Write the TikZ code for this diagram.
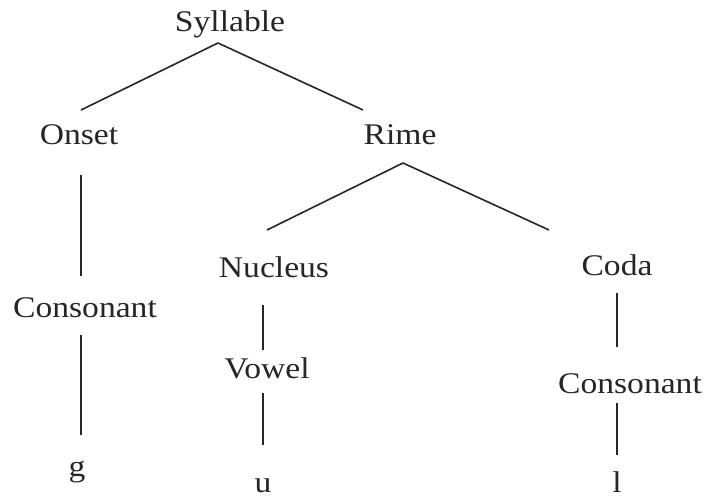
\documentclass[tikz,border=0pt]{standalone}
\usepackage{fontspec}
\setmainfont{Liberation Serif}[FakeStretch=1.12]
\usetikzlibrary{calc}
\begin{document}
\begin{tikzpicture}[x=1pt,y=-1pt,
  lbl/.style={anchor=base,inner sep=0pt,font=\fontsize{30}{34}\selectfont,text=black!85},
  edge/.style={line width=1.6pt,draw=black!85}]
\useasboundingbox[fill=white] (0,0) rectangle (704,497);
\node[lbl] (syl) at (230,32) {Syllable};
\node[lbl] (onset) at (79,145) {Onset};
\node[lbl] (rime) at (400,145) {Rime};
\node[lbl] (consl) at (85,317) {Consonant};
\node[lbl] (g) at (77,476) {g};
\node[lbl] (nuc) at (274,277) {Nucleus};
\node[lbl] (coda) at (617,275) {Coda};
\node[lbl] (vowel) at (267,378) {Vowel};
\node[lbl] (u) at (263,492) {u};
\node[lbl] (consr) at (630,393) {Consonant};
\node[lbl] (l) at (617,492) {l};
\draw[edge] ($(syl.base)+(-12,11)$) -- ($(onset.base)+(2,-35)$);
\draw[edge] ($(syl.base)+(-12,11)$) -- ($(rime.base)+(-37,-35)$);
\draw[edge] ($(onset.base)+(2,30)$) -- ($(consl.base)+(-4,-41)$);
\draw[edge] ($(consl.base)+(-4,18)$) -- ($(g.base)+(4,-41)$);
\draw[edge] ($(rime.base)+(3,18)$) -- ($(nuc.base)+(-7,-47)$);
\draw[edge] ($(rime.base)+(3,18)$) -- ($(coda.base)+(-68,-45)$);
\draw[edge] ($(nuc.base)+(-11,28)$) -- ($(vowel.base)+(-4,-28)$);
\draw[edge] ($(vowel.base)+(-4,15)$) -- ($(u.base)+(0,-47)$);
\draw[edge] ($(coda.base)+(0,18)$) -- ($(consr.base)+(-13,-46)$);
\draw[edge] ($(consr.base)+(-13,10)$) -- ($(l.base)+(0,-37)$);
\end{tikzpicture}
\end{document}
